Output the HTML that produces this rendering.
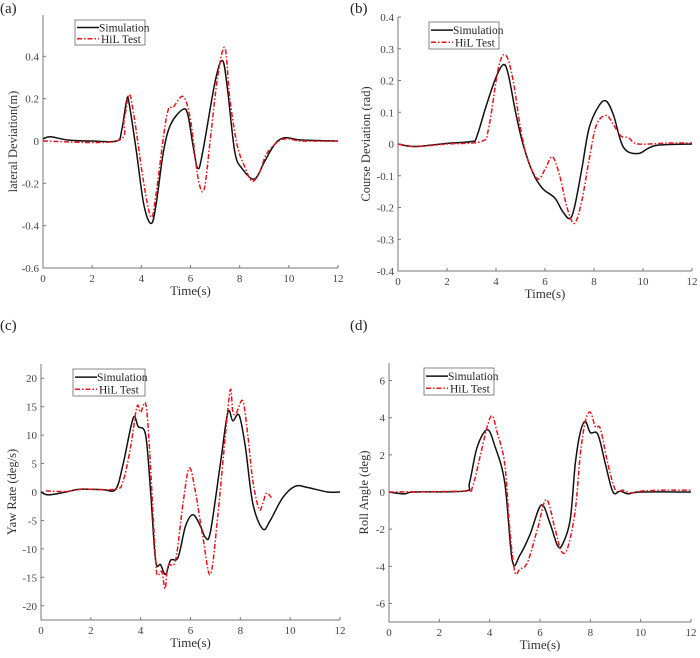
<!DOCTYPE html>
<html><head><meta charset="utf-8"><style>
html,body{margin:0;padding:0;background:#fff;}
svg, svg text{font-family:"Liberation Serif","Times New Roman",serif;}
</style></head><body>
<svg id="fig" width="700" height="653" viewBox="0 0 700 653" xmlns="http://www.w3.org/2000/svg"></svg>
<script>
// ---------- data ----------
const aSimT=[0,0.3,1,2,3,3.2,3.4,3.5,3.8,4.1,4.4,4.6,4.9,5.2,5.7,5.9,6.1,6.3,6.5,7.0,7.3,7.5,7.8,8.1,8.6,9.0,9.4,9.8,10.5,12];
const aSimV=[0.01,0.02,0.005,0,0,0.05,0.19,0.18,-0.05,-0.3,-0.39,-0.3,-0.05,0.08,0.15,0.12,-0.02,-0.13,-0.05,0.28,0.38,0.25,-0.05,-0.13,-0.18,-0.1,-0.02,0.015,0.005,0];
const aHilT=[0,3,3.3,3.5,3.7,4.1,4.4,4.6,4.9,5.1,5.3,5.7,6.0,6.3,6.55,6.8,7.1,7.4,7.6,7.9,8.2,8.5,8.8,9.1,9.6,10,10.5,12];
const aHilV=[0,0,0.1,0.22,0.12,-0.2,-0.36,-0.25,0.02,0.15,0.16,0.21,0.1,-0.17,-0.23,0,0.3,0.44,0.2,-0.02,-0.12,-0.19,-0.15,-0.06,0,0.01,0,0];
const bSimT=[0,0.7,2,3,3.2,3.6,4.0,4.3,4.5,4.8,5.1,5.5,5.9,6.4,6.7,7.0,7.2,7.5,7.8,8.2,8.5,8.8,9.2,9.8,10.5,12];
const bSimV=[0,-0.008,0.002,0.008,0.02,0.12,0.21,0.25,0.22,0.1,0,-0.09,-0.14,-0.17,-0.21,-0.235,-0.2,-0.08,0.05,0.12,0.135,0.09,-0.01,-0.03,-0.005,0];
const bHilT=[0,0.7,2,3.4,3.7,4.1,4.4,4.7,5.0,5.3,5.7,6.0,6.3,6.6,6.9,7.2,7.5,7.8,8.1,8.5,8.8,9.1,9.4,9.8,11,12];
const bHilV=[0,-0.008,0,0.008,0.05,0.24,0.28,0.2,0.05,-0.05,-0.11,-0.08,-0.04,-0.1,-0.2,-0.25,-0.18,-0.05,0.06,0.09,0.06,0.025,0.02,0,0.003,0.003];
const cSimT=[0,0.3,1,1.6,2.5,3,3.3,3.7,3.9,4.2,4.4,4.6,4.8,5.0,5.2,5.5,5.8,6.1,6.4,6.6,6.8,7.2,7.5,7.7,7.95,8.2,8.5,8.9,9.2,9.7,10.2,10.7,11.5,12];
const cSimV=[0,-0.5,0,0.5,0.4,0.5,5,13,11.5,10,0,-12,-12.8,-14.5,-12,-11.5,-6,-4,-6,-8,-7,5,14,12.5,13.5,8,-2,-6.5,-5,-1,1,0.8,0,0];
const cHilT=[0.2,1,1.7,3.0,3.3,3.6,3.85,4.0,4.2,4.35,4.6,4.7,4.85,4.98,5.1,5.4,5.7,5.95,6.2,6.5,6.8,7.1,7.4,7.6,7.7,7.85,8.1,8.3,8.5,8.75,8.9,9.05,9.25];
const cHilV=[0.2,0.1,0.5,0.5,2,8,15,14,15.5,8,-12,-14.5,-14,-17,-13,-12,-2,4.2,0,-8,-14.5,-4,10,18,14,14,16,10,2,-3,-2,-0.2,-1];
const dSimT=[0,0.6,1,3,3.2,3.5,3.9,4.2,4.6,4.9,5.2,5.6,6.05,6.4,6.7,6.9,7.2,7.4,7.6,7.8,8.0,8.3,8.6,8.9,9.2,9.5,10,12];
const dSimV=[0,-0.1,0,0.05,0.5,2.4,3.35,2.5,0.5,-3.7,-3.4,-2.3,-0.7,-1.7,-2.9,-2.8,-1.5,1.5,3.2,3.8,3.2,3.1,1.5,0,0.05,-0.1,0,0];
const dHilT=[0,3,3.3,3.6,3.9,4.1,4.3,4.6,4.8,5.0,5.2,5.5,5.9,6.25,6.6,6.85,7.1,7.4,7.6,7.8,8.0,8.2,8.4,8.7,9.0,9.3,9.6,10,11,12];
const dHilV=[0,0.05,0.2,1.8,3.5,4.1,3.2,1.5,-2,-4.3,-4.15,-3.8,-2,-0.4,-2,-3.2,-3.0,-1,2,3.8,4.3,3.5,3.4,1.5,0.1,0.1,-0.05,0.05,0.1,0.1];
const xTicks=[0,2,4,6,8,10,12];
const aTicks=[-0.6,-0.4,-0.2,0,0.2,0.4];
const bTicks=[-0.4,-0.3,-0.2,-0.1,0,0.1,0.2,0.3,0.4];
const cTicks=[-20,-15,-10,-5,0,5,10,15,20];
const dTicks=[-6,-4,-2,0,2,4,6];

const NS="http://www.w3.org/2000/svg";
const FF='"Liberation Serif","Times New Roman",serif';
const svg=document.getElementById('fig');
function el(tag,attrs,parent){const e=document.createElementNS(NS,tag);for(const k in attrs)e.setAttribute(k,attrs[k]);if(tag==='text')e.setAttribute('font-family',FF);(parent||svg).appendChild(e);return e;}
function fmt(v){return (Math.round(v*10)/10).toString();}

function panel(p){
  const g=el('g',{});
  
  
  const sx=t=>p.x0+(t/12)*(p.x1-p.x0);
  const sy=v=>p.yz+(v-0)*(p.yb-p.yz)/(p.ymin);
  const lab=el('text',{x:p.lx,y:p.ly,'font-size':15,fill:'#222'},g);lab.textContent='('+p.id+')';
  
  
  const ax=el('path',{d:`M${p.x0},${p.top} V${p.yb} H${p.x1}`,stroke:'#777',fill:'none','stroke-width':1},g);
  
  
  xTicks.forEach(t=>{
    el('line',{x1:sx(t),x2:sx(t),y1:p.yb,y2:p.yb-3,stroke:'#777'},g);
    const tx=el('text',{x:sx(t),y:p.yb+14,'font-size':11,fill:'#444','text-anchor':'middle'},g);tx.textContent=t;
    
    
  });
  p.ticks.forEach(v=>{
    el('line',{x1:p.x0,x2:p.x0+3,y1:sy(v),y2:sy(v),stroke:'#777'},g);
    const tx=el('text',{x:p.x0-4,y:sy(v)+4,'font-size':11,fill:'#444','text-anchor':'end'},g);tx.textContent=fmt(v);
    
    
  });
  const xt=el('text',{x:(p.x0+p.x1)/2,y:p.yb+27,'font-size':13,fill:'#333','text-anchor':'middle'},g);xt.textContent='Time(s)';
  
  
  const yc=(p.top+p.yb)/2;
  const yt=el('text',{x:p.ytx,y:yc,'font-size':12.5,fill:'#333','text-anchor':'middle','xml:space':'preserve',transform:`rotate(-90 ${p.ytx} ${yc})`},g);yt.textContent=p.ytitle;
  
  
  function line(T,V,color,dash,name){
    const pts=T.map((t,i)=>[sx(t),sy(V[i])]);
    let d=`M${pts[0][0]},${pts[0][1]}`;
    for(let i=0;i<pts.length-1;i++){
      const p0=pts[i-1]||pts[i],p1=pts[i],p2=pts[i+1],p3=pts[i+2]||p2;
      const c1=[p1[0]+(p2[0]-p0[0])/6,p1[1]+(p2[1]-p0[1])/6];
      const c2=[p2[0]-(p3[0]-p1[0])/6,p2[1]-(p3[1]-p1[1])/6];
      d+=` C${c1[0]},${c1[1]} ${c2[0]},${c2[1]} ${p2[0]},${p2[1]}`;
    }
    const attrs={d:d,stroke:color,fill:'none','stroke-width':1.5};
    if(dash)attrs['stroke-dasharray']=dash;
    const e=el('path',attrs,g);
    
    
  }
  line(p.st,p.sv,'#111',null,'simulation-line');
  line(p.ht,p.hv,'#e8141b','5,2,1.5,2','hil-test-line');
  const L=p.leg;
  const lg=el('g',{},g);
  
  
  el('rect',{x:L[0],y:L[1],width:L[2],height:L[3],fill:'#fff',stroke:'#666','stroke-width':0.8},lg);
  const r1=L[1]+L[3]*0.3, r2=L[1]+L[3]*0.75;
  el('line',{x1:L[0]+2,x2:L[0]+24,y1:r1,y2:r1,stroke:'#111','stroke-width':1.5},lg);
  el('line',{x1:L[0]+2,x2:L[0]+24,y1:r2,y2:r2,stroke:'#e8141b','stroke-width':1.5,'stroke-dasharray':'5,2,1.5,2'},lg);
  const t1=el('text',{x:L[0]+24,y:r1+4,'font-size':11.5,fill:'#222'},lg);t1.textContent='Simulation';
  
  
  const t2=el('text',{x:L[0]+26,y:r2+4,'font-size':11.5,fill:'#222'},lg);t2.textContent='HiL Test';
  
  
}
panel({id:'a',lx:0,ly:13,x0:43,x1:338,top:15,yz:141,yb:268,ymin:-0.6,ticks:aTicks,ytitle:'lateral  Deviation(m)',ytx:17,leg:[75,20,70,25],st:aSimT,sv:aSimV,ht:aHilT,hv:aHilV});
panel({id:'b',lx:350,ly:13,x0:398,x1:692,top:17,yz:144,yb:271,ymin:-0.4,ticks:bTicks,ytitle:'Course Deviation (rad)',ytx:370,leg:[429,22,70,27],st:bSimT,sv:bSimV,ht:bHilT,hv:bHilV});
panel({id:'c',lx:0,ly:330,x0:41,x1:340,top:364,yz:492,yb:620,ymin:-22.5,ticks:cTicks,ytitle:'Yaw Rate (deg/s)',ytx:16,leg:[73,369,72,27],st:cSimT,sv:cSimV,ht:cHilT,hv:cHilV});
panel({id:'d',lx:350,ly:330,x0:389,x1:691,top:363,yz:492,yb:622,ymin:-7,ticks:dTicks,ytitle:'Roll Angle (deg)',ytx:368,leg:[424,368,70,27],st:dSimT,sv:dSimV,ht:dHilT,hv:dHilV});
</script>
</body></html>
